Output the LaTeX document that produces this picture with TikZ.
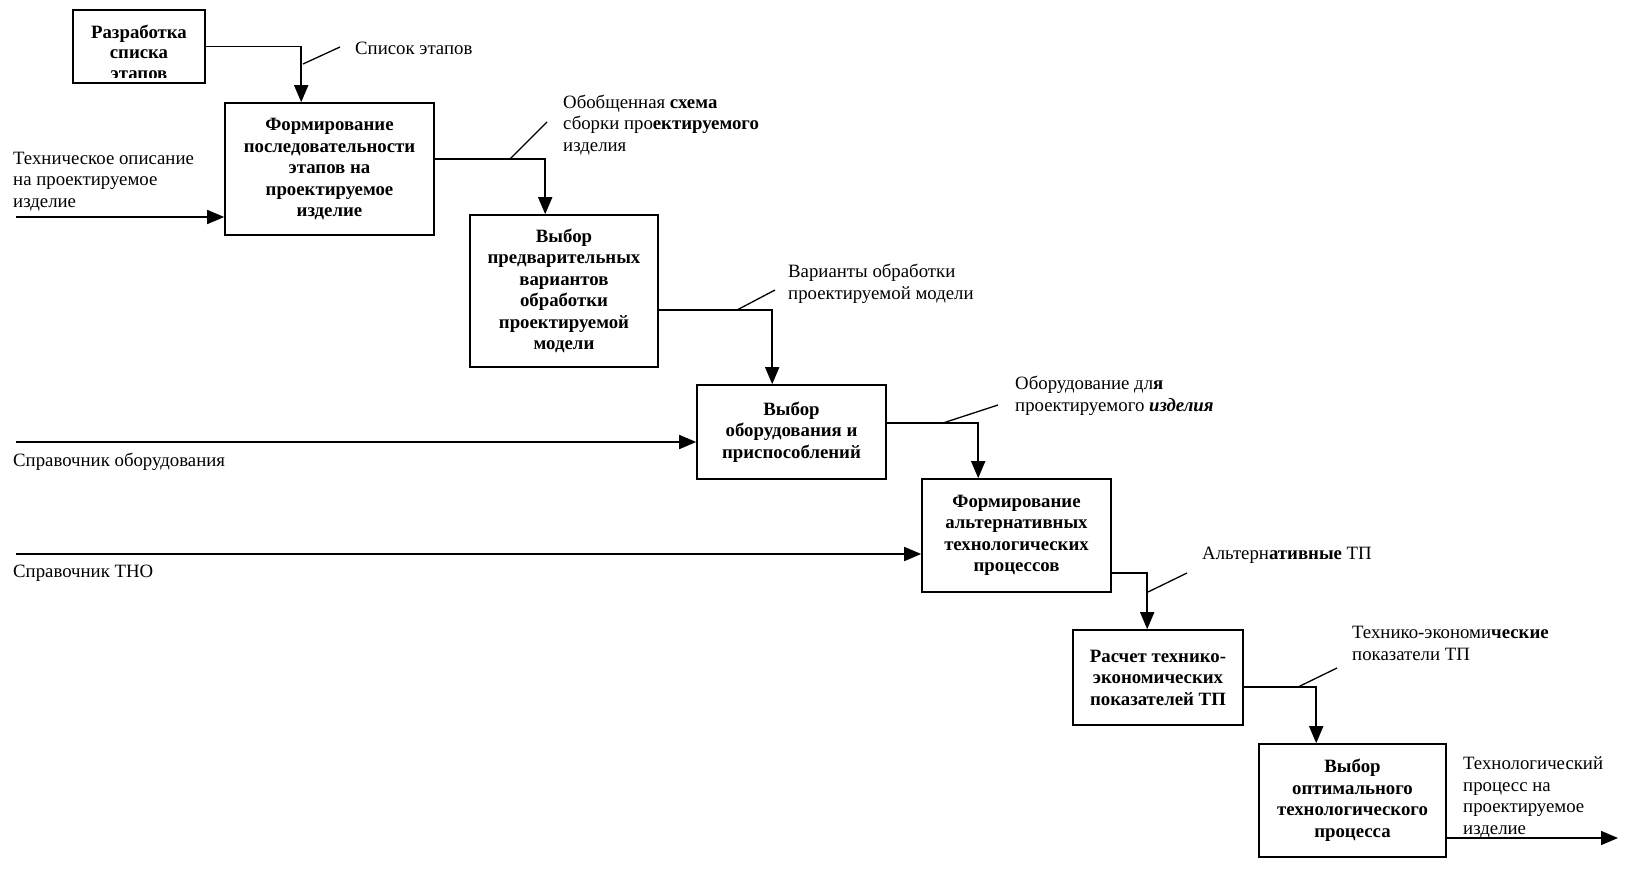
\documentclass[tikz,border=0pt]{standalone}
\usepackage{fontspec}
\setmainfont{Liberation Serif}
\usetikzlibrary{arrows.meta}
\begin{document}
\begin{tikzpicture}[x=1pt,y=-1pt,
  box/.style={draw, line width=1.6pt, rectangle, inner sep=0pt, align=center, font=\bfseries\fontsize{18.8}{21.5}\selectfont},
  boxtext/.style={inner sep=0pt, align=center, font=\bfseries\fontsize{18.8}{20.5}\selectfont},
  lbl/.style={inner sep=0pt, anchor=west, align=left, font=\fontsize{18.8}{21.5}\selectfont},
  arr/.style={line width=1.6pt, -{Triangle[length=17pt,width=14pt]}},
  tick/.style={line width=1.3pt}]
\useasboundingbox[fill=white] (0,0) rectangle (1631,878);

% boxes
\node[box, minimum width=132pt, minimum height=73pt] (B1) at (139,46.5) {};
\begin{scope}
  \clip (75,12) rectangle (203,77);
  \node[boxtext] (B1t) at (139,52) {Разработка\\списка\\этапов};
\end{scope}
\node[box, minimum width=209pt, minimum height=132pt] (B2) at (329.5,169)
  {Формирование\\последовательности\\этапов на\\проектируемое\\изделие};
\node[box, minimum width=188pt, minimum height=152pt] (B3) at (564,291)
  {Выбор\\предварительных\\вариантов\\обработки\\проектируемой\\модели};
\node[box, minimum width=189pt, minimum height=94pt] (B4) at (791.5,432)
  {Выбор\\оборудования и\\приспособлений};
\node[box, minimum width=189pt, minimum height=113pt] (B5) at (1016.5,535.5)
  {Формирование\\альтернативных\\технологических\\процессов};
\node[box, minimum width=170pt, minimum height=95pt] (B6) at (1158,677.5)
  {Расчет технико-\\экономических\\показателей ТП};
\node[box, minimum width=187pt, minimum height=113pt] (B7) at (1352.5,800.5)
  {Выбор\\оптимального\\технологического\\процесса};

% connectors between boxes
\draw[arr] (B1.east) -| ([xshift=77pt]B2.north west);
\draw[arr] ([yshift=10pt]B2.east) -| ([xshift=76pt]B3.north west);
\draw[arr] ([yshift=-19pt]B3.east) -| ([xshift=76pt]B4.north west);
\draw[arr] ([yshift=9pt]B4.east) -| ([xshift=57pt]B5.north west);
\draw[arr] ([yshift=-37.5pt]B5.east) -| ([xshift=75pt]B6.north west);
\draw[arr] ([yshift=-9.5pt]B6.east) -| ([xshift=58pt]B7.north west);
\coordinate (out) at (1618,838);
\draw[arr] ([yshift=-37.5pt]B7.east) -- (out);

% inputs
\coordinate (in1) at (16,217);
\coordinate (in2) at (16,442);
\coordinate (in3) at (16,554);
\draw[arr] (in1) -- (in1 -| B2.west);
\draw[arr] (in2) -- (in2 -| B4.west);
\draw[arr] (in3) -- (in3 -| B5.west);

% leader ticks
\draw[tick] (303,64) -- (340,47);
\draw[tick] (510,159) -- (547,122);
\draw[tick] (737,310) -- (775,290);
\draw[tick] (943,423) -- (998,405);
\draw[tick] (1148,592) -- (1187,573);
\draw[tick] (1298,687) -- (1337,668);

% labels
\node[lbl] (L1) at (355,48) {Список этапов};
\node[lbl] (L2) at (563,125) {Обобщенная \textbf{схема}\\сборки про\textbf{ектируемого}\\изделия};
\node[lbl] (L3) at (788,284) {Варианты обработки\\проектируемой модели};
\node[lbl] (L4) at (1015,396) {Оборудование дл\textbf{я}\\проектируемого \textbf{\itshape изделия}};
\node[lbl] (L5) at (1202,555) {Альтерн\textbf{ативные} ТП};
\node[lbl] (L6) at (1352,643.5) {Технико-экономи\textbf{ческие}\\показатели ТП};
\node[lbl] (L7) at (1463,797.5) {Технологический\\процесс на\\проектируемое\\изделие};
\node[lbl] (L8) at (13,181.5) {Техническое описание\\на проектируемое\\изделие};
\node[lbl] (L9) at (13,462) {Справочник оборудования};
\node[lbl] (L10) at (13,573) {Справочник ТНО};
\end{tikzpicture}
\end{document}
